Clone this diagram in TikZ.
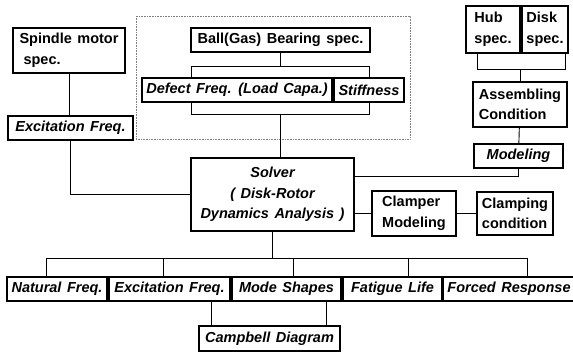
\documentclass[tikz,border=0pt]{standalone}
\usepackage{fontspec}
\setmainfont{Liberation Sans}
\usepackage{tikz}
\newcommand{\widespace}{\spaceskip=0.38em\relax}

\begin{document}
\begin{tikzpicture}[
    x=1pt,y=-1pt,
    box/.style={
      draw,
      line width=1.1pt,
      inner sep=0pt,
      font=\fontsize{14.5}{20.5}\selectfont\bfseries\widespace
    },
    ibox/.style={
      box,
      font=\fontsize{14.5}{20.5}\selectfont\bfseries\itshape\widespace
    },
    link/.style={line width=0.9pt}
    ]
    \useasboundingbox (0,0) rectangle (573,352);
    \draw[densely dotted,gray,line width=0.6pt] (136,16) rectangle (410,139);

    \node[box,minimum width=112,minimum height=45,align=left] (spindle) at (69,50.5) {Spindle motor\\\hspace{4pt}spec.};
    \node[ibox,minimum width=125,minimum height=24] (exc1) at (70.5,128) {Excitation Freq.};
    \node[box,minimum width=179,minimum height=24] (bearing) at (280.5,40) {Ball(Gas) Bearing spec.};
    \node[ibox,minimum width=190,minimum height=24] (defect) at (237,90) {Defect Freq. (Load Capa.)};
    \node[ibox,minimum width=70,minimum height=24] (stiff) at (369,90) {Stiffness};
    \node[ibox,minimum width=163,minimum height=73,align=center] (solver) at (272.5,194.5) {Solver\\( Disk-Rotor\\Dynamics Analysis )};

    \node[box,minimum width=54,minimum height=47,align=left] (hub) at (493,29.5) {Hub\\spec.};
    \node[box,minimum width=46,minimum height=47,align=left] (disk) at (545,29.5) {Disk\\spec.};
    \node[box,minimum width=94,minimum height=45,align=left] (assem) at (520,104.5) {Assembling\\Condition};
    \node[ibox,minimum width=89,minimum height=24] (model) at (518.5,156) {Modeling};
    \node[box,minimum width=84,minimum height=45,align=left] (clamper) at (414,213.5) {Clamper\\Modeling};
    \node[box,minimum width=76,minimum height=43,align=left] (clamping) at (515,213.5) {Clamping\\condition};

    \node[ibox,minimum width=100,minimum height=24] (nat) at (57,289) {Natural Freq.};
    \node[ibox,minimum width=121,minimum height=24] (exc2) at (169.5,289) {Excitation Freq.};
    \node[ibox,minimum width=109,minimum height=24] (mode) at (286.5,289) {Mode Shapes};
    \node[ibox,minimum width=99,minimum height=24] (fat) at (392.5,289) {Fatigue Life};
    \node[ibox,minimum width=132,minimum height=24] (forced) at (509,289) {Forced Response};
    \node[ibox,minimum width=141,minimum height=25] (camp) at (269.5,338.5) {Campbell Diagram};

    % bracket corners and bus
    \coordinate (brL) at (191,66);
    \coordinate (brR) at (369,66);
    \coordinate (blL) at (191,114);
    \coordinate (blR) at (369,114);
    \coordinate (hdL) at (477,69);
    \coordinate (hdR) at (565,69);
    \coordinate (busL) at (46,258);
    \coordinate (busR) at (527,258);

    \draw[link] (spindle) -- (spindle |- exc1.north);
    \draw[link] (exc1.south) |- (solver.west);

    \draw[link] (bearing.south) -- (bearing.south |- brL);
    \draw[link] (brL |- defect.north) -- (brL) -- (brR) -- (brR |- stiff.north);
    \draw[link] (brL |- defect.south) -- (blL) -- (blR) -- (brR |- stiff.south);
    \draw[link] (bearing.south |- blL) -- (bearing.south |- solver.north);

    \draw[link] (hdL |- hub.south) -- (hdL) -- (hdR) -- (hdR |- disk.south);
    \draw[link] (assem.north |- hdL) -- (assem.north);
    \draw[link] (assem) -- (model);
    \draw[link] (model.south) |- ([yshift=18pt]solver.east);

    \draw[link] (solver.east |- clamper.west) -- (clamper.west);
    \draw[link] (clamper) -- (clamping);

    \draw[link] (solver.south) -- (solver.south |- busL);
    \draw[link] (busL) -- (busR);
    \draw[link] (busL) -- (busL |- nat.north);
    \draw[link] (163,258) -- (exc2.north -| 163,0);
    \draw[link] (293,258) -- (mode.north -| 293,0);
    \draw[link] (408,258) -- (fat.north -| 408,0);
    \draw[link] (busR) -- (busR |- forced.north);

    \draw[link] ([xshift=42pt]exc2.south) -- ([xshift=42pt]exc2.south |- camp.north);
    \draw[link] ([xshift=39.5pt]mode.south) -- ([xshift=39.5pt]mode.south |- camp.north);
\end{tikzpicture}
\end{document}
